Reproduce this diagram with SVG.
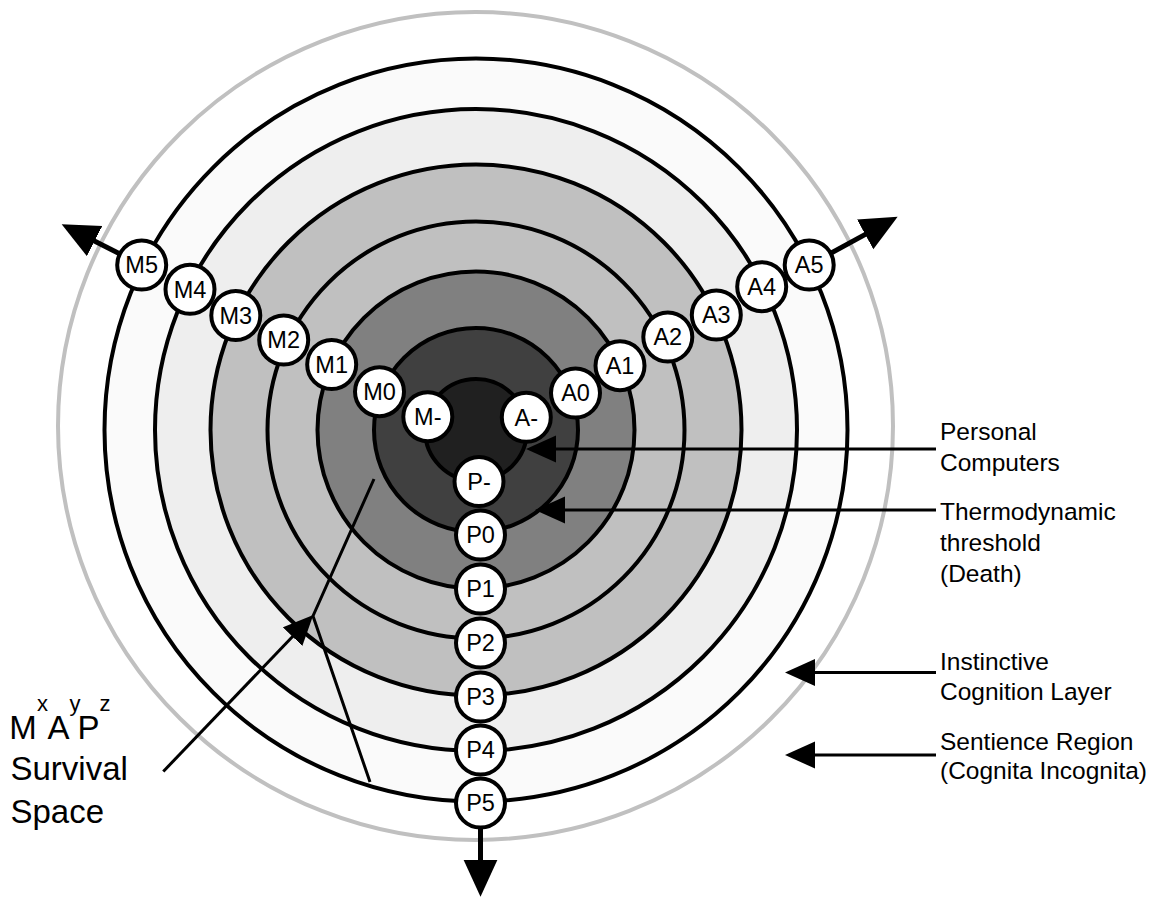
<svg xmlns="http://www.w3.org/2000/svg" width="1163" height="899" viewBox="0 0 1163 899">
<defs>
<style>
.ring{stroke:#000;stroke-width:4}
.node circle{fill:#fff;stroke:#000;stroke-width:4}
.node text{font-family:"Liberation Sans",Arial,sans-serif;font-size:23.5px;text-anchor:middle;fill:#000}
.axis{stroke:#000;stroke-width:5;fill:none}
.ptr{stroke:#000;stroke-width:3;fill:none}
.lbl{font-family:"Liberation Sans",Arial,sans-serif;font-size:24.5px;fill:#000}
.big{font-family:"Liberation Sans",Arial,sans-serif;font-size:33px;fill:#000}
.sup{font-family:"Liberation Sans",Arial,sans-serif;font-size:22px;fill:#000}
</style>
<marker id="ahBig" markerUnits="userSpaceOnUse" markerWidth="40" markerHeight="36" refX="8" refY="17" orient="auto"><path d="M0,0 L37,17 L0,34 z" fill="#000"/></marker>
<marker id="ahSmall" markerUnits="userSpaceOnUse" markerWidth="32" markerHeight="28" refX="6" refY="13.5" orient="auto"><path d="M0,0 L30,13.5 L0,27 z" fill="#000"/></marker>
</defs>
<rect width="1163" height="899" fill="#fff"/>
<g id="rings">
<ellipse cx="475.5" cy="426" rx="417.5" ry="414" fill="#fff" stroke="#c0c0c0" stroke-width="4"/>
<circle class="ring" cx="476" cy="430" r="371.5" fill="#fafafa"/>
<circle class="ring" cx="476" cy="430" r="321" fill="#eeeeee"/>
<circle class="ring" cx="476" cy="430" r="265.5" fill="#c0c0c0"/>
<circle class="ring" cx="476" cy="430" r="208.5" fill="#c0c0c0"/>
<circle class="ring" cx="476" cy="430" r="158.5" fill="#808080"/>
<circle class="ring" cx="476" cy="430" r="102" fill="#404040"/>
<circle class="ring" cx="476" cy="430" r="51" fill="#202020"/>
</g>
<g id="connectors">
<line class="axis" x1="141.7" y1="265" x2="87.5" y2="237.4" marker-end="url(#ahBig)"/>
<line class="axis" x1="809.2" y1="265" x2="872.2" y2="230.6" marker-end="url(#ahBig)"/>
<line class="axis" x1="480.5" y1="803" x2="480.5" y2="867.7" marker-end="url(#ahBig)"/>
<line class="ptr" x1="936" y1="449" x2="550" y2="449" marker-end="url(#ahSmall)"/>
<line class="ptr" x1="936" y1="510" x2="559" y2="510" marker-end="url(#ahSmall)"/>
<line class="ptr" x1="936" y1="672.5" x2="809" y2="672.5" marker-end="url(#ahSmall)"/>
<line class="ptr" x1="936" y1="755" x2="809" y2="755" marker-end="url(#ahSmall)"/>
<polyline class="ptr" points="374,479 313,616 370,782"/>
<line class="ptr" x1="163.3" y1="771.5" x2="296.7" y2="632.3" marker-end="url(#ahSmall)"/>
</g>
<g id="node-M5" class="node"><circle cx="141.7" cy="265" r="24.5"/><text x="141.7" y="273.4">M5</text></g>
<g id="node-M4" class="node"><circle cx="190" cy="289.3" r="24.5"/><text x="190" y="297.7">M4</text></g>
<g id="node-M3" class="node"><circle cx="235.8" cy="315.5" r="24.5"/><text x="235.8" y="323.9">M3</text></g>
<g id="node-M2" class="node"><circle cx="283.7" cy="340" r="24.5"/><text x="283.7" y="348.4">M2</text></g>
<g id="node-M1" class="node"><circle cx="331.7" cy="364.5" r="24.5"/><text x="331.7" y="372.9">M1</text></g>
<g id="node-M0" class="node"><circle cx="379.5" cy="391.7" r="24.5"/><text x="379.5" y="400.1">M0</text></g>
<g id="node-Mminus" class="node"><circle cx="427.8" cy="416.7" r="24.5"/><text x="427.8" y="425.1">M-</text></g>
<g id="node-Aminus" class="node"><circle cx="526.3" cy="417.3" r="24.5"/><text x="526.3" y="425.7">A-</text></g>
<g id="node-A0" class="node"><circle cx="575.5" cy="393" r="24.5"/><text x="575.5" y="401.4">A0</text></g>
<g id="node-A1" class="node"><circle cx="620" cy="365.7" r="24.5"/><text x="620" y="374.1">A1</text></g>
<g id="node-A2" class="node"><circle cx="667.8" cy="337" r="24.5"/><text x="667.8" y="345.4">A2</text></g>
<g id="node-A3" class="node"><circle cx="716.3" cy="315" r="24.5"/><text x="716.3" y="323.4">A3</text></g>
<g id="node-A4" class="node"><circle cx="761.7" cy="286.7" r="24.5"/><text x="761.7" y="295.1">A4</text></g>
<g id="node-A5" class="node"><circle cx="809.2" cy="265" r="24.5"/><text x="809.2" y="273.4">A5</text></g>
<g id="node-Pminus" class="node"><circle cx="479" cy="481.5" r="24.5"/><text x="479" y="489.9">P-</text></g>
<g id="node-P0" class="node"><circle cx="480.5" cy="535" r="24.5"/><text x="480.5" y="543.4">P0</text></g>
<g id="node-P1" class="node"><circle cx="480.5" cy="589" r="24.5"/><text x="480.5" y="597.4">P1</text></g>
<g id="node-P2" class="node"><circle cx="480.5" cy="643" r="24.5"/><text x="480.5" y="651.4">P2</text></g>
<g id="node-P3" class="node"><circle cx="480.5" cy="697" r="24.5"/><text x="480.5" y="705.4">P3</text></g>
<g id="node-P4" class="node"><circle cx="480.5" cy="750" r="24.5"/><text x="480.5" y="758.4">P4</text></g>
<g id="node-P5" class="node"><circle cx="480.5" cy="803" r="24.5"/><text x="480.5" y="811.4">P5</text></g>
<g id="labels">
<text class="lbl" x="940" y="440">Personal</text>
<text class="lbl" x="940" y="470.5">Computers</text>
<text class="lbl" x="940" y="519.5">Thermodynamic</text>
<text class="lbl" x="940" y="550.5">threshold</text>
<text class="lbl" x="940" y="581.5">(Death)</text>
<text class="lbl" x="940" y="669.5">Instinctive</text>
<text class="lbl" x="940" y="700">Cognition Layer</text>
<text class="lbl" x="940" y="749.5">Sentience Region</text>
<text class="lbl" x="940" y="779">(Cognita Incognita)</text>
<text class="big" x="9.3" y="739">M</text>
<text class="sup" x="37" y="711">x</text>
<text class="big" x="47.5" y="739">A</text>
<text class="sup" x="69.5" y="711">y</text>
<text class="big" x="77.5" y="739">P</text>
<text class="sup" x="99.5" y="711">z</text>
<text class="big" x="10.5" y="780">Survival</text>
<text class="big" x="10.5" y="823">Space</text>
</g>
</svg>
